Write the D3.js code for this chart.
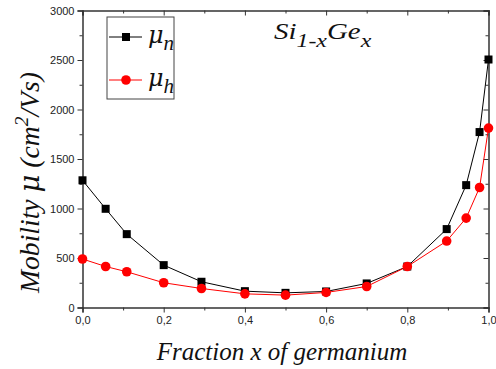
<!DOCTYPE html>
<html>
<head>
<meta charset="utf-8">
<script src="https://cdn.jsdelivr.net/npm/d3@7"></script>
<style>
  body { margin: 0; background: #fff; }
  svg { display: block; }
  .tick text { font-family: "Liberation Sans", Arial, sans-serif; font-size: 11px; fill: #222; }
  .serif { font-family: "Liberation Serif", "Times New Roman", serif; font-style: italic; fill: #111; white-space: pre; }
  .greek { font-family: "DejaVu Serif", "Liberation Serif", serif; font-style: italic; }
</style>
</head>
<body>
<svg id="chart" width="496" height="369"></svg>
<script>
// Germanium fraction in Si(1-x)Ge(x)
const fraction = [0, 0.057, 0.109, 0.2, 0.293, 0.4, 0.5, 0.6, 0.7, 0.8, 0.897, 0.945, 0.978, 1.0];
// Electron mobility (cm^2/Vs)
const muN = [1285, 997, 741, 428, 260, 165, 148, 162, 243, 414, 792, 1236, 1772, 2505];
// Hole mobility (cm^2/Vs)
const muH = [490, 414, 361, 250, 192, 138, 125, 152, 212, 414, 671, 903, 1212, 1812];
// Tick labels
const xTickValues = [0, 0.2, 0.4, 0.6, 0.8, 1.0];
const xTickLabels = ["0,0", "0,2", "0,4", "0,6", "0,8", "1,0"];
const yTickValues = [0, 500, 1000, 1500, 2000, 2500, 3000];

const svg = d3.select("#chart");
const plotLeft = 82.5, plotRight = 488.5, plotTop = 10.5, plotBottom = 307.5;

const x = d3.scaleLinear().domain([0, 1]).range([plotLeft, plotRight]);
const y = d3.scaleLinear().domain([0, 3000]).range([plotBottom, plotTop]);

const axisColor = "#333";

function styleAxis(g) {
  g.select(".domain").attr("stroke", axisColor).attr("stroke-width", 1.5);
  g.selectAll(".tick line").attr("stroke", axisColor).attr("stroke-width", 1);
}
function styleMinor(g) {
  g.select(".domain").remove();
  g.selectAll("line").attr("stroke", axisColor);
}

// Minor ticks
const xMinor = [0.1, 0.3, 0.5, 0.7, 0.9];
const yMinor = [250, 750, 1250, 1750, 2250, 2750];

// Bottom axis (outward ticks)
const gB = svg.append("g").attr("transform", `translate(0,${plotBottom})`)
  .call(d3.axisBottom(x).tickValues(xTickValues).tickFormat((d, i) => xTickLabels[i]).tickSizeOuter(0).tickSize(5).tickPadding(4));
styleAxis(gB);
svg.append("g").attr("transform", `translate(0,${plotBottom})`)
  .call(d3.axisBottom(x).tickValues(xMinor).tickFormat("").tickSize(3)).call(styleMinor);

// Top axis (inward ticks)
const gT = svg.append("g").attr("transform", `translate(0,${plotTop})`)
  .call(d3.axisTop(x).tickValues(xTickValues).tickFormat("").tickSizeOuter(0).tickSize(-5));
styleAxis(gT);
svg.append("g").attr("transform", `translate(0,${plotTop})`)
  .call(d3.axisTop(x).tickValues(xMinor).tickFormat("").tickSize(-3)).call(styleMinor);

// Left axis (outward ticks)
const gL = svg.append("g").attr("transform", `translate(${plotLeft},0)`)
  .call(d3.axisLeft(y).tickValues(yTickValues).tickFormat(d3.format("d")).tickSizeOuter(0).tickSize(5).tickPadding(3));
styleAxis(gL);
svg.append("g").attr("transform", `translate(${plotLeft},0)`)
  .call(d3.axisLeft(y).tickValues(yMinor).tickFormat("").tickSize(3)).call(styleMinor);

// Right axis (inward ticks)
const gR = svg.append("g").attr("transform", `translate(${plotRight},0)`)
  .call(d3.axisRight(y).tickValues(yTickValues).tickFormat("").tickSizeOuter(0).tickSize(-5));
styleAxis(gR);
svg.append("g").attr("transform", `translate(${plotRight},0)`)
  .call(d3.axisRight(y).tickValues(yMinor).tickFormat("").tickSize(-3)).call(styleMinor);

// Series
const line = d3.line().x(d => x(d[0])).y(d => y(d[1]));
const series = [
  { values: muN, color: "#000000", shape: "square" },
  { values: muH, color: "#ff0000", shape: "circle" }
];

series.forEach(s => {
  const pts = fraction.map((f, i) => [f, s.values[i]]);
  svg.append("path").datum(pts)
    .attr("fill", "none").attr("stroke", s.color).attr("stroke-width", 1)
    .attr("d", line);
});
series.forEach(s => {
  const pts = fraction.map((f, i) => [f, s.values[i]]);
  if (s.shape === "square") {
    svg.append("g").selectAll("rect").data(pts).join("rect")
      .attr("x", d => x(d[0]) - 4).attr("y", d => y(d[1]) - 4)
      .attr("width", 8).attr("height", 8).attr("fill", s.color);
  } else {
    svg.append("g").selectAll("circle").data(pts).join("circle")
      .attr("cx", d => x(d[0])).attr("cy", d => y(d[1]))
      .attr("r", 4.8).attr("fill", s.color);
  }
});

// Stretch a text element horizontally (in its own frame) to a given width
function stretchTo(textSel, width, anchorX, anchorY) {
  const w = textSel.node().getBBox().width;
  const k = width / w;
  textSel.attr("transform", `translate(${anchorX},${anchorY}) scale(${k},1) translate(${-anchorX},${-anchorY})`);
}

// Legend
const leg = svg.append("g");
leg.append("rect").attr("x", 107).attr("y", 17).attr("width", 67).attr("height", 82)
  .attr("fill", "#fff").attr("stroke", "#444").attr("stroke-width", 1);
const legItems = [
  { label: "n", color: "#000000", shape: "square", cy: 37 },
  { label: "h", color: "#ff0000", shape: "circle", cy: 80 }
];
legItems.forEach(it => {
  leg.append("line").attr("x1", 109).attr("x2", 142).attr("y1", it.cy).attr("y2", it.cy)
    .attr("stroke", it.color).attr("stroke-width", 1);
  if (it.shape === "square") {
    leg.append("rect").attr("x", 126 - 4).attr("y", it.cy - 4).attr("width", 8).attr("height", 8).attr("fill", it.color);
  } else {
    leg.append("circle").attr("cx", 126).attr("cy", it.cy).attr("r", 4.8).attr("fill", it.color);
  }
  const t = leg.append("text").attr("class", "serif").attr("x", 148).attr("y", it.cy + 6)
    .attr("font-size", 24);
  t.append("tspan").attr("class", "greek").text("μ");
  t.append("tspan").attr("dy", 7).attr("font-size", 21).text(it.label);
});

// Compound label
const title = svg.append("text").attr("class", "serif").attr("x", 274).attr("y", 39).attr("font-size", 23);
title.append("tspan").text("Si");
title.append("tspan").attr("dy", 8).attr("font-size", 19).text("1-x");
title.append("tspan").attr("dy", -8).text("Ge");
title.append("tspan").attr("dy", 8).attr("font-size", 19).text("x");
stretchTo(title, 98, 274, 39);

// Axis titles
svg.append("text").attr("class", "serif").attr("x", 282).attr("y", 360)
  .attr("text-anchor", "middle").attr("font-size", 25).text("Fraction x of germanium");

const yl = svg.append("g").attr("transform", "translate(39,182.5) rotate(-90)");
const yt = yl.append("text").attr("class", "serif")
  .attr("text-anchor", "middle").attr("font-size", 27);
yt.append("tspan").text("Mobility ");
yt.append("tspan").attr("class", "greek").text("μ");
yt.append("tspan").text(" (cm");
yt.append("tspan").attr("dy", -11).attr("font-size", 19).text("2");
yt.append("tspan").attr("dy", 11).text("/Vs)");
stretchTo(yt, 222, 0, 0);
</script>
</body>
</html>
